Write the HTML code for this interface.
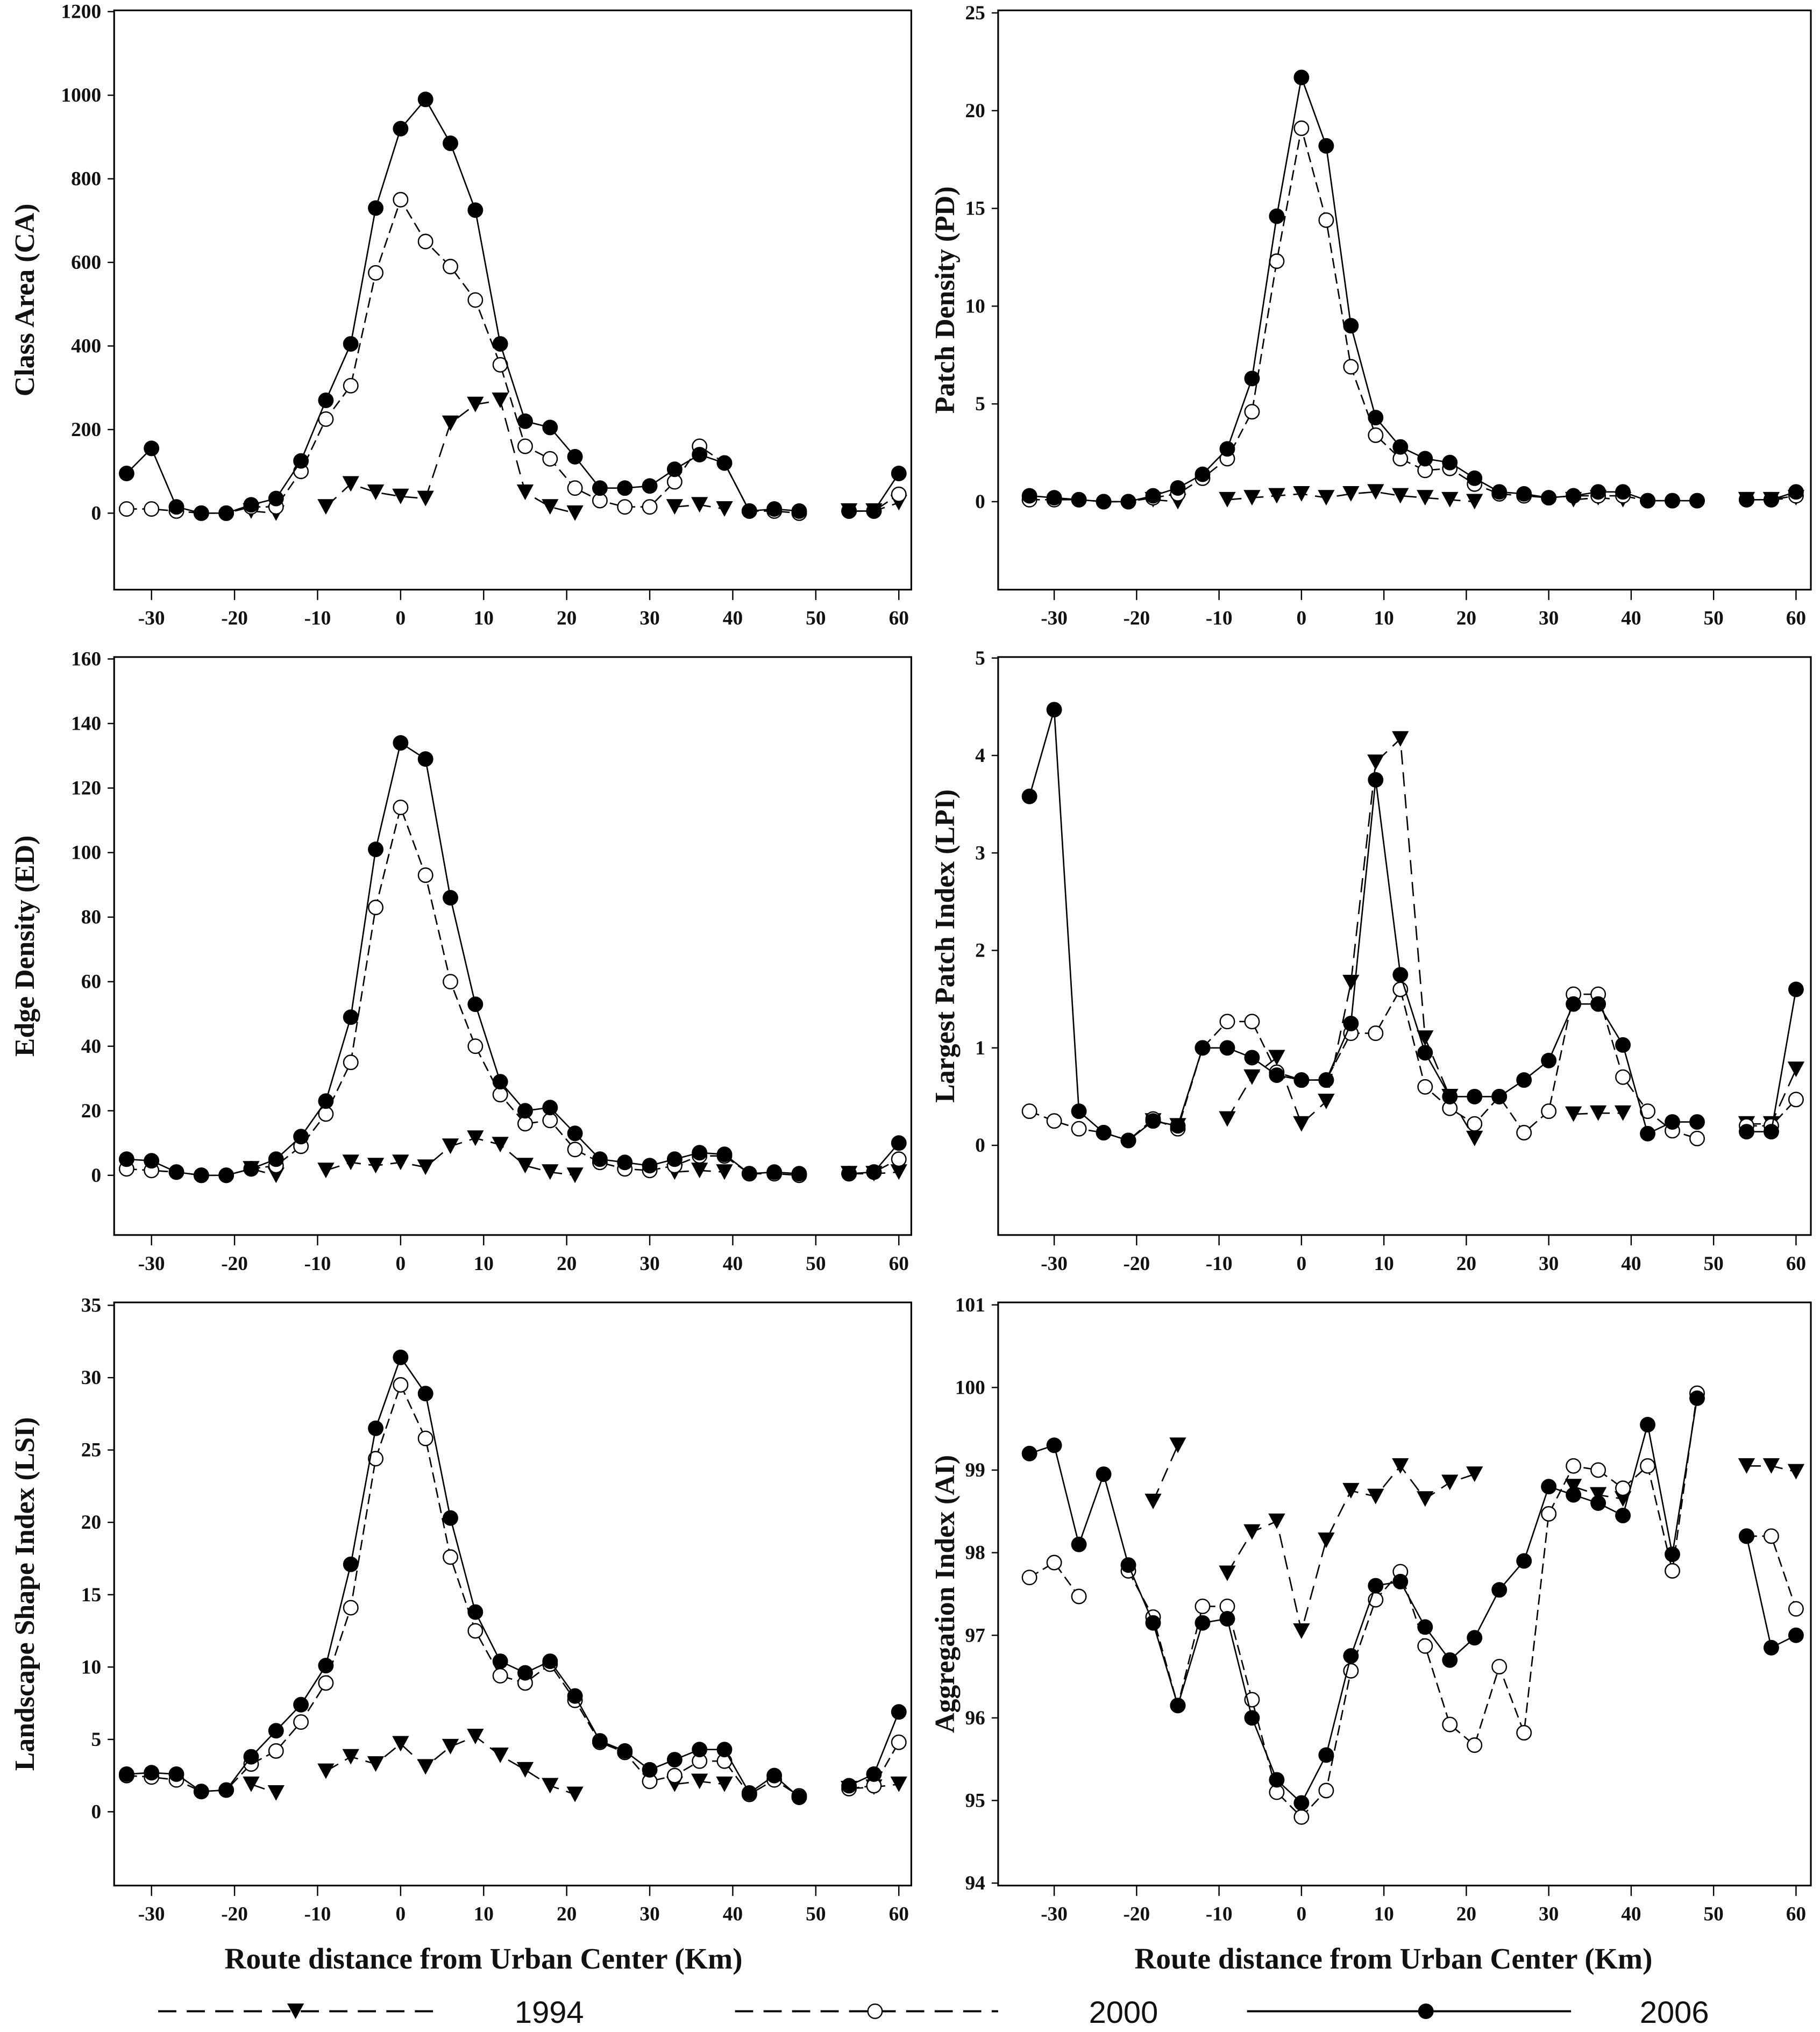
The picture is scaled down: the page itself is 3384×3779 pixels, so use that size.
<!DOCTYPE html>
<html><head><meta charset="utf-8">
<style>html,body{margin:0;padding:0;background:#fff}svg{display:block}
text{font-family:"Liberation Serif",serif;font-weight:bold;fill:#111}</style></head>
<body>
<svg id="chart" xmlns="http://www.w3.org/2000/svg" width="3384" height="3779" viewBox="0 0 1404 1568">
<rect width="1404" height="1568" fill="#fff"/>
</svg>
<script>
const xs=[-33,-30,-27,-24,-21,-18,-15,-12,-9,-6,-3,0,3,6,9,12,15,18,21,24,27,30,33,36,39,42,45,48,null,54,57,60];
const N=null;
const xTicks=[-30,-20,-10,0,10,20,30,40,50,60];
const caY06=[95,155,15,0,0,20,35,125,270,405,730,920,990,885,725,405,220,205,135,60,60,65,105,140,120,5,10,5,N,5,5,95];
const caY00=[10,10,5,0,0,15,15,100,225,305,575,750,650,590,510,355,160,130,60,30,15,15,75,160,120,5,5,0,N,5,5,45];
const caY94=[N,N,N,N,N,5,0,N,15,70,50,40,35,215,260,270,50,15,0,N,N,N,15,20,10,N,N,N,N,5,5,25];
const pdY06=[0.3,0.2,0.1,0,0,0.3,0.7,1.4,2.7,6.3,14.6,21.7,18.2,9.0,4.3,2.8,2.2,2.0,1.2,0.5,0.4,0.2,0.3,0.5,0.5,0.05,0.05,0.05,N,0.1,0.1,0.5];
const pdY00=[0.1,0.1,0.1,0,0,0.2,0.4,1.2,2.2,4.6,12.3,19.1,14.4,6.9,3.4,2.2,1.6,1.7,0.9,0.4,0.3,0.2,0.3,0.3,0.3,0.05,0.05,0.05,N,0.1,0.1,0.3];
const pdY94=[N,N,N,N,N,0.1,0,N,0.1,0.2,0.3,0.4,0.2,0.4,0.5,0.3,0.2,0.1,0,N,N,N,0.1,0.2,0.1,N,N,N,N,0.1,0.1,0.2];
const edY06=[5,4.5,1,0,0,2,5,12,23,49,101,134,129,86,53,29,20,21,13,5,4,3,5,7,6.5,0.5,1,0.5,N,0.5,1,10];
const edY00=[2,1.5,1,0,0,2,3,9,19,35,83,114,93,60,40,25,16,17,8,4,2,1.5,3,6,6,0.5,0.5,0,N,0.5,1,5];
const edY94=[N,N,N,N,N,2,0,N,1.5,4,3,4,2.5,9,11.5,9.5,3,1,0,N,N,N,1,1.5,1,N,N,N,N,0.5,0.5,1];
const lpiY06=[3.58,4.47,0.35,0.13,0.05,0.25,0.2,1.0,1.0,0.9,0.72,0.67,0.67,1.25,3.75,1.75,0.95,0.5,0.5,0.5,0.67,0.87,1.45,1.45,1.03,0.12,0.24,0.24,N,0.14,0.14,1.6];
const lpiY00=[0.35,0.25,0.17,0.13,0.05,0.27,0.17,1.0,1.27,1.27,0.75,0.67,0.67,1.15,1.15,1.6,0.6,0.38,0.22,0.5,0.13,0.35,1.55,1.55,0.7,0.35,0.15,0.07,N,0.2,0.2,0.47];
const lpiY94=[N,N,N,N,N,0.25,0.2,N,0.27,0.7,0.9,0.22,0.45,1.67,3.93,4.17,1.1,0.5,0.07,N,N,N,0.32,0.33,0.33,N,N,N,N,0.22,0.22,0.78];
const lsiY06=[2.6,2.7,2.6,1.4,1.5,3.8,5.6,7.4,10.1,17.1,26.5,31.4,28.9,20.3,13.8,10.4,9.6,10.4,8,4.9,4.2,2.9,3.6,4.3,4.3,1.3,2.5,1,N,1.8,2.6,6.9];
const lsiY00=[2.5,2.4,2.2,1.4,1.5,3.3,4.2,6.2,8.9,14.1,24.4,29.5,25.8,17.6,12.5,9.4,8.9,10.2,7.7,4.8,4.1,2.1,2.5,3.5,3.5,1.2,2.2,1.1,N,1.6,1.8,4.8];
const lsiY94=[N,N,N,N,N,1.9,1.3,N,2.8,3.8,3.3,4.7,3.1,4.5,5.2,3.9,2.9,1.8,1.2,N,N,N,1.9,2.1,1.9,N,N,N,N,1.6,1.7,1.9];
const aiY06=[99.2,99.3,98.1,98.95,97.85,97.15,96.15,97.15,97.2,96.0,95.25,94.97,95.55,96.75,97.6,97.65,97.1,96.7,96.97,97.55,97.9,98.8,98.7,98.6,98.45,99.55,97.98,99.87,N,98.2,96.85,97.0];
const aiY00=[97.7,97.88,97.47,N,97.78,97.22,96.15,97.35,97.35,96.22,95.1,94.8,95.12,96.57,97.43,97.77,96.87,95.92,95.67,96.62,95.82,98.47,99.05,99.0,98.78,99.05,97.78,99.93,N,98.2,98.2,97.32];
const aiY94=[N,N,N,N,N,98.62,99.3,N,97.75,98.25,98.38,97.05,98.15,98.75,98.68,99.05,98.65,98.85,98.95,N,N,N,98.8,98.7,98.65,N,N,N,N,99.05,99.05,98.98];
const caTicks=[0,200,400,600,800,1000,1200];
const pdTicks=[0,5,10,15,20,25];
const edTicks=[0,20,40,60,80,100,120,140,160];
const lpiTicks=[0,1,2,3,4,5];
const lsiTicks=[0,5,10,15,20,25,30,35];
const aiTicks=[94,95,96,97,98,99,100,101];

const NS="http://www.w3.org/2000/svg";
const svg=document.getElementById('chart');
function mk(tag,attrs,parent){const e=document.createElementNS(NS,tag);for(const k in attrs)e.setAttribute(k,attrs[k]);(parent||svg).appendChild(e);return e;}
const panels=[
 {name:'ca',title:'Class Area  (CA)',x0:88,x1:703,y0:8,y1:455,xmin:-34.5,xmax:61.5,ymin:-183,ymax:1203,ticks:caTicks,s:[caY94,caY00,caY06],lx:19},
 {name:'pd',title:'Patch Density  (PD)',x0:770,x1:1397,y0:8,y1:455,xmin:-36.8,xmax:61.8,ymin:-4.5,ymax:25.13,ticks:pdTicks,s:[pdY94,pdY00,pdY06],lx:729},
 {name:'ed',title:'Edge Density (ED)',x0:88,x1:703,y0:507,y1:953,xmin:-34.5,xmax:61.5,ymin:-18.5,ymax:160.6,ticks:edTicks,s:[edY94,edY00,edY06],lx:19},
 {name:'lpi',title:'Largest Patch Index  (LPI)',x0:770,x1:1397,y0:507,y1:953,xmin:-36.8,xmax:61.8,ymin:-0.92,ymax:5.01,ticks:lpiTicks,s:[lpiY94,lpiY00,lpiY06],lx:729},
 {name:'lsi',title:'Landscape Shape Index  (LSI)',x0:88,x1:703,y0:1005,y1:1455,xmin:-34.5,xmax:61.5,ymin:-5.1,ymax:35.2,ticks:lsiTicks,s:[lsiY94,lsiY00,lsiY06],lx:19},
 {name:'ai',title:'Aggregation Index  (AI)',x0:770,x1:1397,y0:1005,y1:1455,xmin:-36.8,xmax:61.8,ymin:93.97,ymax:101.03,ticks:aiTicks,s:[aiY94,aiY00,aiY06],lx:729}
];
const styles=[{dash:'11,6',mark:'tri'},{dash:'8,4',mark:'open'},{dash:'',mark:'fill'}];
const yrs=['1994','2000','2006'];
function marker(g,t,px,py){
 let m;
 if(t==='tri'){m=mk('polygon',{points:`${px-6.5},${py-6} ${px+6.5},${py-6} ${px},${py+6}`,fill:'#000'},g);}
 else if(t==='open'){m=mk('circle',{cx:px,cy:py,r:5.5,fill:'#fff',stroke:'#000','stroke-width':1},g);}
 else {m=mk('circle',{cx:px,cy:py,r:6,fill:'#000'},g);}
 
 
}
panels.forEach(p=>{
 const g=mk('g',{});
 
 
 const X=v=>p.x0+(v-p.xmin)/(p.xmax-p.xmin)*(p.x1-p.x0);
 const Y=v=>p.y1-(v-p.ymin)/(p.ymax-p.ymin)*(p.y1-p.y0);
 const fr=mk('rect',{x:p.x0,y:p.y0,width:p.x1-p.x0,height:p.y1-p.y0,fill:'none',stroke:'#000','stroke-width':1.3},g);
 
 
 p.ticks.forEach(t=>{const y=Y(t);mk('line',{x1:p.x0-5,x2:p.x0,y1:y,y2:y,stroke:'#000'},g);
  const tx=mk('text',{x:p.x0-10,y:y+5,'text-anchor':'end','font-size':15.5},g);tx.textContent=t;
  
  });
 xTicks.forEach(t=>{const x=X(t);mk('line',{x1:x,x2:x,y1:p.y1,y2:p.y1+8,stroke:'#000'},g);
  const tx=mk('text',{x:x,y:p.y1+27,'text-anchor':'middle','font-size':15.5},g);tx.textContent=t;
  
  });
 const cy=(p.y0+p.y1)/2;
 const yt=mk('text',{x:p.lx,y:cy,'text-anchor':'middle','font-size':21.5,transform:`rotate(-90 ${p.lx} ${cy})`,dy:7},g);
 yt.textContent=p.title;
 
 
 p.s.forEach((arr,si)=>{
  const sg=mk('g',{},g);
  
  
  let seg=[];const segs=[];
  xs.forEach((x,i)=>{const v=arr[i];if(x===null||v===null){if(seg.length)segs.push(seg);seg=[];}else seg.push([X(x),Y(v)]);});
  if(seg.length)segs.push(seg);
  segs.forEach(s=>{if(s.length>1){const pl=mk('polyline',{points:s.map(q=>q.join(',')).join(' '),fill:'none',stroke:'#000','stroke-width':1.1,'stroke-dasharray':styles[si].dash},sg);
   
   }});
  segs.forEach(s=>s.forEach(q=>marker(sg,styles[si].mark,q[0],q[1])));
 });
});
[[373],[1075]].forEach(([cx])=>{const t=mk('text',{x:cx,y:1519,'text-anchor':'middle','font-size':23});t.textContent='Route distance from Urban Center (Km)';
 
 });
const leg=[[122,340,228,397],[567,770,675,840],[962,1212,1100,1265]];
leg.forEach((l,i)=>{
 const g=mk('g',{});
 
 
 mk('line',{x1:l[0],x2:l[1],y1:1552,y2:1552,stroke:'#000','stroke-width':1.6,'stroke-dasharray':i===2?'':'14,8'},g);
 marker(g,styles[i].mark,l[2],1552);
 const t=mk('text',{x:l[3],y:1561,'font-size':24,style:'font-family:"Liberation Sans",sans-serif;font-weight:normal'},g);t.textContent=yrs[i];
 
 
});
</script>
</body></html>
